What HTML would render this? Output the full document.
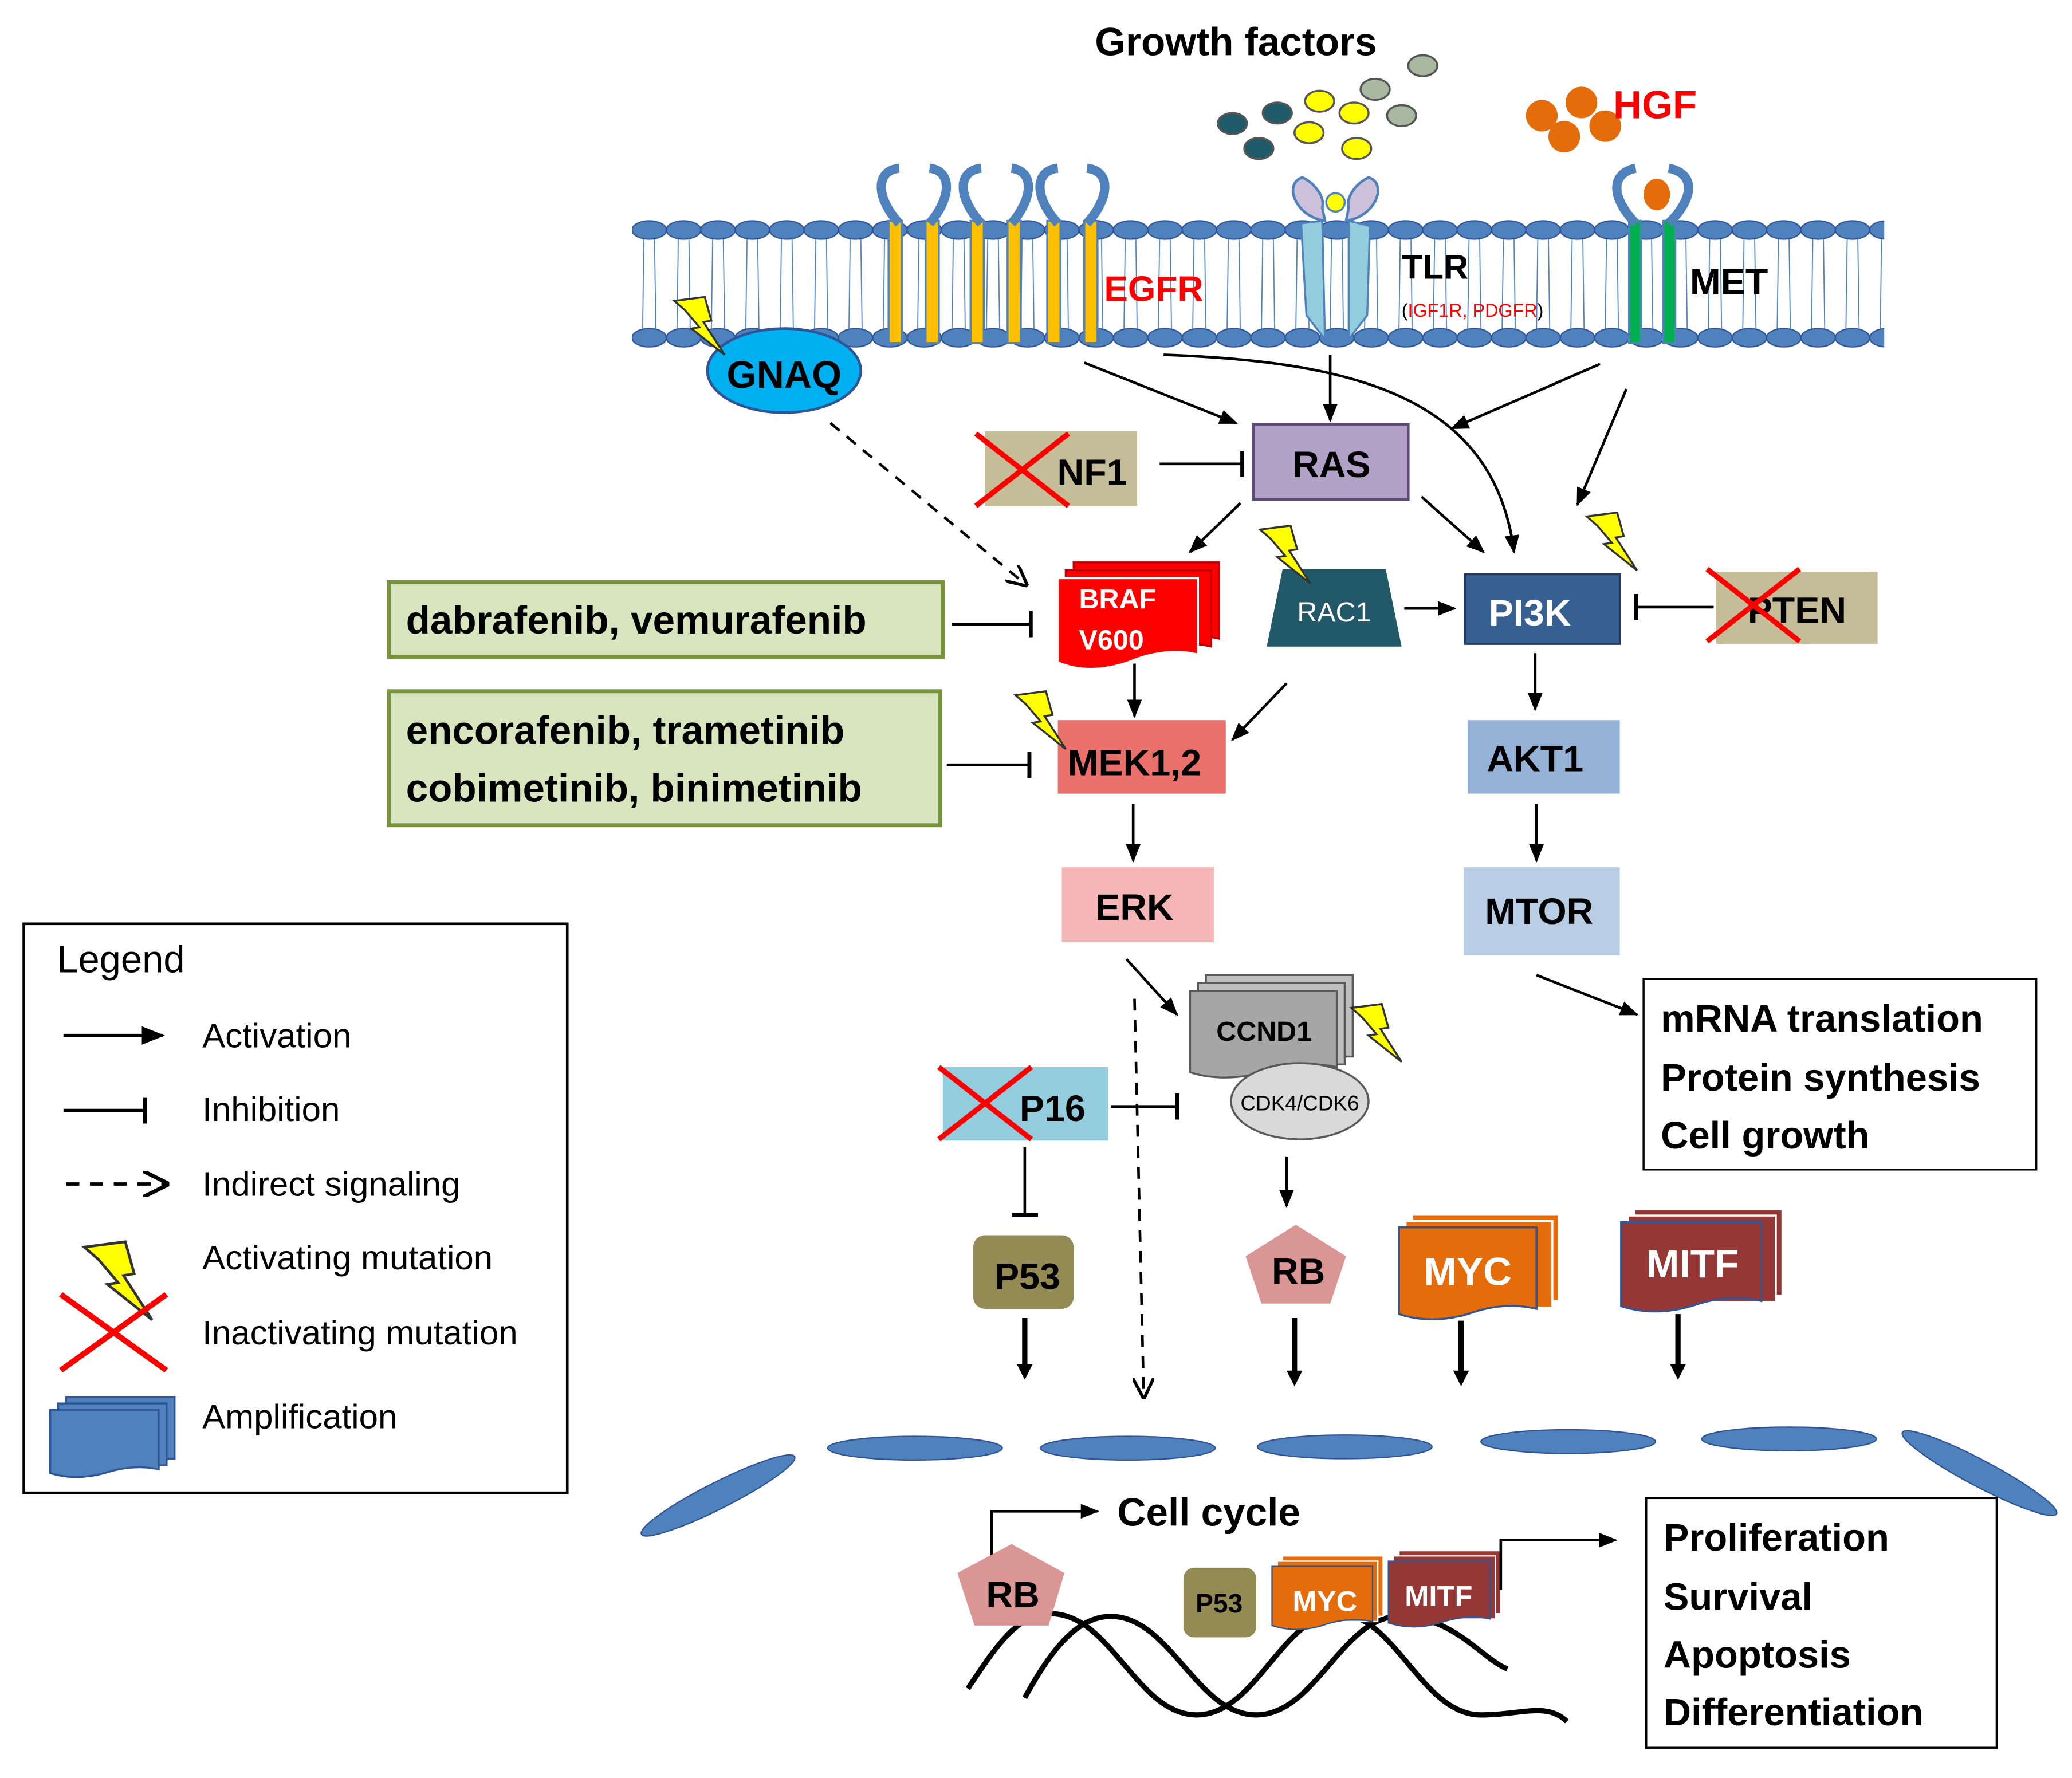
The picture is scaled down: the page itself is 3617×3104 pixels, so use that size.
<!DOCTYPE html>
<html><head><meta charset="utf-8"><style>html,body{margin:0;padding:0;background:#fff}svg{display:block}</style></head>
<body>
<svg width="3617" height="3104" viewBox="0 0 1567 1353" preserveAspectRatio="none" xmlns="http://www.w3.org/2000/svg" font-family="Liberation Sans, sans-serif" font-weight="bold">
<defs>
<pattern id="mem" x="478" y="166" width="26" height="100" patternUnits="userSpaceOnUse">
<line x1="9" y1="14" x2="8" y2="86" stroke="#4F81BD" stroke-width="0.8"/>
<line x1="17" y1="14" x2="18" y2="86" stroke="#4F81BD" stroke-width="0.8"/>
<ellipse cx="13" cy="9" rx="13" ry="7" fill="#4F81BD" stroke="#2F5597" stroke-width="1"/>
<ellipse cx="13" cy="91" rx="13" ry="7" fill="#4F81BD" stroke="#2F5597" stroke-width="1"/>
</pattern>
<marker id="a" viewBox="0 0 10 10" refX="9" refY="5" markerWidth="7" markerHeight="7" orient="auto"><path d="M0,1 L10,5 L0,9 Z" fill="#000"/></marker>
<marker id="ao" viewBox="0 0 10 10" refX="9" refY="5" markerWidth="8" markerHeight="8" orient="auto"><path d="M0,0 L10,5 L0,10" fill="none" stroke="#000" stroke-width="1.5"/></marker>
<marker id="t" viewBox="0 0 4 20" refX="2" refY="10" markerWidth="4" markerHeight="20" markerUnits="userSpaceOnUse" orient="auto"><rect x="0" y="0" width="3" height="20" fill="#000"/></marker>
<g id="bolt"><polygon points="0,3 23,0 28,18 22,19 38,44 13,24 19,23 8,10" fill="#FFFF00" stroke="#333" stroke-width="1.5"/></g>
<g id="xx"><line x1="0" y1="0" x2="70" y2="55" stroke="#FF0000" stroke-width="4"/><line x1="70" y1="0" x2="0" y2="55" stroke="#FF0000" stroke-width="4"/></g>
</defs>

<text x="828" y="42" font-size="30">Growth factors</text>
<g stroke="#555" stroke-width="1.5">
<ellipse cx="932" cy="94" rx="11" ry="8" fill="#1F5B68"/><ellipse cx="966" cy="86" rx="11" ry="8" fill="#1F5B68"/><ellipse cx="952" cy="113" rx="11" ry="8" fill="#1F5B68"/>
<ellipse cx="998" cy="77" rx="11" ry="8" fill="#FFFF00"/><ellipse cx="990" cy="101" rx="11" ry="8" fill="#FFFF00"/><ellipse cx="1024" cy="86" rx="11" ry="8" fill="#FFFF00"/><ellipse cx="1026" cy="113" rx="11" ry="8" fill="#FFFF00"/>
<ellipse cx="1040" cy="68" rx="11" ry="8" fill="#A9B8A0"/><ellipse cx="1076" cy="50" rx="11" ry="8" fill="#A9B8A0"/><ellipse cx="1060" cy="88" rx="11" ry="8" fill="#A9B8A0"/>
</g>
<g fill="#E46C0A"><circle cx="1166" cy="88" r="12"/><circle cx="1196" cy="78" r="12"/><circle cx="1183" cy="104" r="12"/><circle cx="1214" cy="96" r="12"/></g>
<text x="1220" y="90" font-size="30" fill="#FF0000">HGF</text>

<rect x="478" y="166" width="947" height="100" fill="url(#mem)"/>

<g fill="#FFC000" stroke="#4F81BD" stroke-width="1.5">
<rect x="672" y="168" width="10" height="93"/><rect x="700" y="168" width="10" height="93"/>
<rect x="734" y="168" width="10" height="93"/><rect x="762" y="168" width="10" height="93"/>
<rect x="792" y="168" width="10" height="93"/><rect x="820" y="168" width="10" height="93"/>
</g>
<g fill="none" stroke="#4F81BD" stroke-width="7">
<path d="M680,170 C662,150 662,130 680,128 M703,170 C720,150 720,130 703,128"/>
<path d="M742,170 C724,150 724,130 742,128 M765,170 C782,150 782,130 765,128"/>
<path d="M800,170 C782,150 782,130 800,128 M822,170 C840,150 840,130 822,128"/>
</g>
<text x="835" y="229" font-size="27" fill="#FF0000">EGFR</text>

<path d="M984,170 L1000,168 L1002,258 L988,240 Z" fill="#93CDDD" stroke="#4F81BD" stroke-width="1.5"/>
<path d="M1020,168 L1036,172 L1034,240 L1020,258 Z" fill="#93CDDD" stroke="#4F81BD" stroke-width="1.5"/>
<path d="M1002,168 C980,165 970,140 985,135 C995,140 1002,150 1000,158 Z" fill="#CCC0DA" stroke="#4F81BD" stroke-width="2"/>
<path d="M1018,168 C1040,165 1050,140 1035,135 C1025,140 1018,150 1020,158 Z" fill="#CCC0DA" stroke="#4F81BD" stroke-width="2"/>
<circle cx="1010" cy="154" r="7" fill="#FFFF00" stroke="#4F81BD" stroke-width="1.5"/>
<text x="1060" y="212" font-size="26">TLR</text>
<text x="1060" y="241" font-size="14" fill="#FF0000" font-weight="normal"><tspan fill="#000">(</tspan>IGF1R, PDGFR<tspan fill="#000">)</tspan></text>

<g fill="#00B050" stroke="#4F81BD" stroke-width="1.5"><rect x="1232" y="168" width="9" height="93"/><rect x="1258" y="168" width="9" height="93"/></g>
<path d="M1237,170 C1218,150 1218,132 1237,128 M1262,170 C1282,150 1282,132 1262,128" fill="none" stroke="#4F81BD" stroke-width="7"/>
<ellipse cx="1253" cy="148" rx="10" ry="12" fill="#E46C0A"/>
<text x="1278" y="224" font-size="28">MET</text>

<ellipse cx="593" cy="282" rx="58" ry="32" fill="#00B0F0" stroke="#2F5597" stroke-width="2"/>
<text x="593" y="295" font-size="29" text-anchor="middle">GNAQ</text>
<use href="#bolt" x="510" y="226"/>

<g stroke="#000" stroke-width="2" fill="none">
<line x1="820" y1="276" x2="935" y2="322" marker-end="url(#a)"/>
<line x1="1006" y1="270" x2="1006" y2="320" marker-end="url(#a)"/>
<path d="M880,270 C1020,275 1130,300 1145,420" marker-end="url(#a)"/>
<line x1="1210" y1="277" x2="1098" y2="326" marker-end="url(#a)"/>
<line x1="1230" y1="296" x2="1193" y2="384" marker-end="url(#a)"/>
<line x1="628" y1="322" x2="776" y2="445" stroke-dasharray="9,7" marker-end="url(#ao)"/>
<line x1="877" y1="353" x2="940" y2="353" marker-end="url(#t)"/>
<line x1="938" y1="383" x2="900" y2="420" marker-end="url(#a)"/>
<line x1="1075" y1="378" x2="1122" y2="420" marker-end="url(#a)"/>
<line x1="1062" y1="463" x2="1100" y2="463" marker-end="url(#a)"/>
<line x1="1296" y1="462" x2="1237" y2="462" marker-end="url(#t)"/>
<line x1="720" y1="475" x2="780" y2="475" marker-end="url(#t)"/>
<line x1="858" y1="505" x2="858" y2="545" marker-end="url(#a)"/>
<line x1="973" y1="520" x2="932" y2="563" marker-end="url(#a)"/>
<line x1="1161" y1="497" x2="1161" y2="540" marker-end="url(#a)"/>
<line x1="716" y1="582" x2="779" y2="582" marker-end="url(#t)"/>
<line x1="857" y1="612" x2="857" y2="655" marker-end="url(#a)"/>
<line x1="1162" y1="612" x2="1162" y2="655" marker-end="url(#a)"/>
<line x1="852" y1="730" x2="890" y2="772" marker-end="url(#a)"/>
<line x1="858" y1="760" x2="865" y2="1063" stroke-dasharray="9,7" marker-end="url(#ao)"/>
<line x1="1162" y1="742" x2="1238" y2="772" marker-end="url(#a)"/>
<line x1="840" y1="842" x2="891" y2="842" marker-end="url(#t)"/>
<line x1="775" y1="873" x2="775" y2="925" marker-end="url(#t)"/>
<line x1="973" y1="880" x2="973" y2="918" marker-end="url(#a)"/>
</g>
<g stroke="#000" stroke-width="4">
<line x1="775" y1="1003" x2="775" y2="1040"/><line x1="979" y1="1003" x2="979" y2="1045"/>
<line x1="1105" y1="1005" x2="1105" y2="1045"/><line x1="1269" y1="1000" x2="1269" y2="1040"/>
</g>
<g fill="#000"><polygon points="769,1038 781,1038 775,1050"/><polygon points="973,1043 985,1043 979,1055"/><polygon points="1099,1043 1111,1043 1105,1055"/><polygon points="1263,1038 1275,1038 1269,1050"/></g>

<rect x="745" y="328" width="115" height="57" fill="#C4BD97"/>
<text x="826" y="369" font-size="28" text-anchor="middle">NF1</text>
<use href="#xx" x="738" y="330"/>
<rect x="948" y="323" width="117" height="57" fill="#B3A2C7" stroke="#5F497A" stroke-width="2"/>
<text x="1007" y="363" font-size="28" text-anchor="middle">RAS</text>

<g stroke="#C00000" stroke-width="1.5">
<path d="M812,428 h110 v58 q-25,-6 -55,6 q-30,10 -55,0 Z" fill="#FF0000"/>
<path d="M806,434 h110 v58 q-25,-6 -55,6 q-30,10 -55,0 Z" fill="#FF0000"/>
<path d="M800,440 h106 v58 q-25,-6 -53,6 q-30,10 -53,0 Z" fill="#FF0000" stroke="#fff"/>
</g>
<text x="816" y="463" font-size="21" fill="#fff">BRAF</text>
<text x="816" y="494" font-size="21" fill="#fff">V600</text>

<polygon points="970,433 1048,433 1060,492 958,492" fill="#215968"/>
<text x="1009" y="473" font-size="21" fill="#fff" text-anchor="middle" font-weight="normal">RAC1</text>
<use href="#bolt" x="953" y="400"/>

<rect x="1108" y="437" width="117" height="53" fill="#376092" stroke="#1F3864" stroke-width="1.5"/>
<text x="1157" y="476" font-size="28" fill="#fff" text-anchor="middle">PI3K</text>
<use href="#bolt" x="1200" y="390"/>

<rect x="1298" y="435" width="122" height="55" fill="#C4BD97"/>
<text x="1359" y="474" font-size="28" text-anchor="middle">PTEN</text>
<use href="#xx" x="1291" y="433"/>

<rect x="294" y="443" width="419" height="57" fill="#D7E4BD" stroke="#77933C" stroke-width="3"/>
<text x="307" y="482" font-size="30">dabrafenib, vemurafenib</text>
<rect x="294" y="526" width="417" height="102" fill="#D7E4BD" stroke="#77933C" stroke-width="3"/>
<text x="307" y="566" font-size="30">encorafenib, trametinib</text>
<text x="307" y="610" font-size="30">cobimetinib, binimetinib</text>

<rect x="800" y="548" width="127" height="56" fill="#EA706C"/>
<text x="858" y="590" font-size="28" text-anchor="middle">MEK1,2</text>
<use href="#bolt" x="768" y="526"/>
<rect x="1110" y="548" width="115" height="56" fill="#95B3D7"/>
<text x="1161" y="587" font-size="28" text-anchor="middle">AKT1</text>
<rect x="803" y="660" width="115" height="57" fill="#F4B6B6"/>
<text x="858" y="700" font-size="28" text-anchor="middle">ERK</text>
<rect x="1107" y="660" width="118" height="67" fill="#B9CDE5"/>
<text x="1164" y="703" font-size="28" text-anchor="middle">MTOR</text>

<rect x="1243" y="745" width="297" height="145" fill="#fff" stroke="#000" stroke-width="1.5"/>
<text x="1256" y="785" font-size="29">mRNA translation</text>
<text x="1256" y="830" font-size="29">Protein synthesis</text>
<text x="1256" y="874" font-size="29">Cell growth</text>

<g stroke="#595959" stroke-width="1.5">
<rect x="912" y="742" width="111" height="62" fill="#BFBFBF"/>
<rect x="906" y="748" width="111" height="62" fill="#BFBFBF"/>
<path d="M900,754 h111 v58 q-28,-6 -56,4 q-30,8 -55,0 Z" fill="#A6A6A6"/>
</g>
<text x="956" y="792" font-size="21" text-anchor="middle">CCND1</text>
<ellipse cx="983" cy="838" rx="52" ry="29" fill="#D9D9D9" stroke="#595959" stroke-width="1.5"/>
<text x="983" y="845" font-size="16" text-anchor="middle" font-weight="normal">CDK4/CDK6</text>
<use href="#bolt" x="1022" y="764"/>

<rect x="713" y="812" width="125" height="56" fill="#93CDDD"/>
<text x="796" y="853" font-size="28" text-anchor="middle">P16</text>
<use href="#xx" x="710" y="812"/>

<rect x="736" y="940" width="76" height="56" rx="9" fill="#948A54"/>
<text x="777" y="981" font-size="28" text-anchor="middle">P53</text>
<polygon points="980,932 1018,956 1006,992 954,992 942,956" fill="#D99694"/>
<text x="982" y="977" font-size="28" text-anchor="middle">RB</text>
<g stroke="#fff" stroke-width="1.5">
<rect x="1068" y="924" width="111" height="66" fill="#E46C0A"/>
<rect x="1063" y="929" width="111" height="66" fill="#E46C0A"/>
<path d="M1058,934 h104 v62 q-25,-6 -52,4 q-28,8 -52,0 Z" fill="#E46C0A" stroke="#2F5597"/>
</g>
<text x="1110" y="978" font-size="30" fill="#fff" text-anchor="middle">MYC</text>
<g stroke="#fff" stroke-width="1.5">
<rect x="1236" y="920" width="112" height="66" fill="#953735"/>
<rect x="1231" y="925" width="112" height="66" fill="#953735"/>
<path d="M1226,930 h106 v60 q-25,-6 -53,4 q-28,8 -53,0 Z" fill="#953735" stroke="#2F5597"/>
</g>
<text x="1280" y="972" font-size="30" fill="#fff" text-anchor="middle">MITF</text>

<g fill="#4F81BD" stroke="#2F5597" stroke-width="1">
<ellipse cx="543" cy="1138" rx="65" ry="10" transform="rotate(-27 543 1138)"/>
<ellipse cx="692" cy="1102" rx="66" ry="9"/>
<ellipse cx="853" cy="1102" rx="66" ry="9"/>
<ellipse cx="1017" cy="1101" rx="66" ry="9"/>
<ellipse cx="1186" cy="1097" rx="66" ry="9"/>
<ellipse cx="1353" cy="1095" rx="66" ry="9"/>
<ellipse cx="1497" cy="1121" rx="66" ry="10" transform="rotate(28 1497 1121)"/>
</g>

<g fill="none" stroke="#000" stroke-width="4">
<path d="M732,1285 C755,1250 770,1228 795,1228 C840,1228 860,1305 905,1305 C950,1305 970,1228 1012,1228 C1055,1228 1075,1305 1120,1305 C1150,1305 1170,1295 1185,1310"/>
<path d="M775,1292 C795,1255 815,1230 840,1230 C885,1230 905,1305 950,1305 C995,1305 1015,1230 1058,1230 C1100,1230 1120,1262 1140,1270"/>
</g>
<path d="M750,1190 V1150 H830" fill="none" stroke="#000" stroke-width="2" marker-end="url(#a)"/>
<text x="845" y="1161" font-size="30">Cell cycle</text>
<polygon points="765,1175 805,1197 793,1237 737,1237 724,1197" fill="#D99694"/>
<text x="766" y="1223" font-size="28" text-anchor="middle">RB</text>
<rect x="895" y="1193" width="55" height="53" rx="8" fill="#948A54"/>
<text x="922" y="1227" font-size="20" text-anchor="middle">P53</text>
<g stroke="#fff" stroke-width="1">
<rect x="970" y="1184" width="76" height="46" fill="#E46C0A"/><rect x="966" y="1188" width="76" height="46" fill="#E46C0A"/>
<path d="M962,1192 h76 v42 q-18,-4 -38,3 q-20,6 -38,0 Z" fill="#E46C0A" stroke="#2F5597"/>
<rect x="1058" y="1180" width="77" height="48" fill="#953735"/><rect x="1054" y="1184" width="77" height="48" fill="#953735"/>
<path d="M1050,1188 h77 v44 q-18,-4 -38,3 q-20,6 -39,0 Z" fill="#953735" stroke="#2F5597"/>
</g>
<text x="1002" y="1226" font-size="22" fill="#fff" text-anchor="middle">MYC</text>
<text x="1088" y="1222" font-size="22" fill="#fff" text-anchor="middle">MITF</text>
<path d="M1135,1210 V1172 H1222" fill="none" stroke="#000" stroke-width="2" marker-end="url(#a)"/>

<rect x="1245" y="1140" width="265" height="190" fill="#fff" stroke="#000" stroke-width="1.5"/>
<text x="1258" y="1180" font-size="29">Proliferation</text>
<text x="1258" y="1225" font-size="29">Survival</text>
<text x="1258" y="1269" font-size="29">Apoptosis</text>
<text x="1258" y="1313" font-size="29">Differentiation</text>

<rect x="18" y="703" width="411" height="433" fill="#fff" stroke="#000" stroke-width="2"/>
<g font-weight="normal" font-size="26">
<text x="43" y="740" font-size="29">Legend</text>
<text x="153" y="797">Activation</text>
<text x="153" y="853">Inhibition</text>
<text x="153" y="910">Indirect signaling</text>
<text x="153" y="966">Activating mutation</text>
<text x="153" y="1023">Inactivating mutation</text>
<text x="153" y="1087">Amplification</text>
</g>
<g stroke="#000" stroke-width="2.5" fill="none">
<line x1="48" y1="788" x2="123" y2="788" marker-end="url(#a)"/>
<line x1="48" y1="845" x2="110" y2="845" marker-end="url(#t)"/>
<line x1="50" y1="901" x2="126" y2="901" stroke-dasharray="10,8" marker-end="url(#ao)"/>
</g>
<use href="#bolt" x="62" y="937" transform="translate(-20,-320) scale(1.35)"/>
<g transform="translate(46,985) scale(1.14,1.05)"><use href="#xx"/></g>
<g stroke="#2F5597" stroke-width="1.5">
<rect x="50" y="1063" width="82" height="47" fill="#4F81BD"/><rect x="44" y="1068" width="82" height="47" fill="#4F81BD"/>
<path d="M38,1073 h82 v45 q-20,-4 -41,3 q-22,6 -41,0 Z" fill="#4F81BD"/>
</g>
</svg>
</body></html>
